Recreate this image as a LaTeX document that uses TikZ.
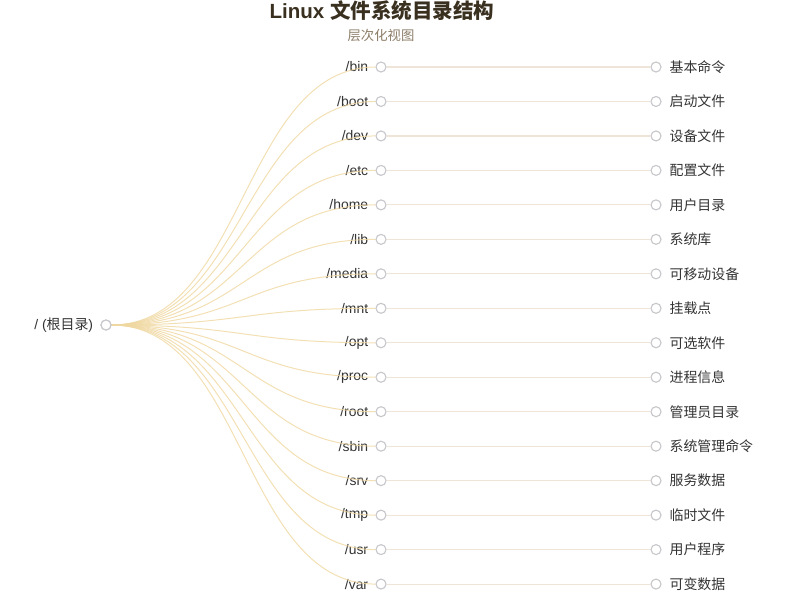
\documentclass[tikz,border=0pt]{standalone}
\usepackage{fontspec}
\setmainfont{Liberation Sans}
\newfontfamily\cjk{Noto Sans CJK SC}
\usetikzlibrary{positioning}

\definecolor{linkgold}{HTML}{EFD7A0}
\definecolor{linkpale}{HTML}{EFE4D8}
\definecolor{dotgray}{HTML}{C8C8CC}
\definecolor{titlebrown}{HTML}{3A3020}
\definecolor{subbrown}{HTML}{8C7D68}
\definecolor{labelgray}{HTML}{333333}

\tikzset{
  dot/.style={circle, draw=dotgray, fill=white, line width=0.8pt, minimum size=0.25cm, inner sep=0pt},
  dirlabel/.style={text=labelgray, font=\fontsize{9.9}{11}\selectfont, inner sep=0pt},
  curvelink/.style={draw=linkgold, line width=0.7pt, opacity=0.8},
  flatlink/.style={draw=linkpale, line width=0.8pt}
}

\begin{document}
\begin{tikzpicture}[x=0.025cm, y=-0.025cm]
\useasboundingbox (0,0) rectangle (800,600);

% Title
\node (title) [text=titlebrown, font=\fontsize{14.6}{17}\bfseries] at (382,10.5) {Linux {\cjk 文件系统目录结构}};
\node (subtitle) [text=subbrown, font=\fontsize{9.5}{11}\cjk] at (381,35) {层次化视图};

% Root
\node (root) [dot] at (106,325) {};
\node (rootlabel) [dirlabel, left=5pt of root] {/ ({\cjk 根目录})};

% Directories
\foreach \d/\t [count=\i] in {bin/基本命令, boot/启动文件, dev/设备文件, etc/配置文件,
  home/用户目录, lib/系统库, media/可移动设备, mnt/挂载点, opt/可选软件,
  proc/进程信息, root/管理员目录, sbin/系统管理命令, srv/服务数据, tmp/临时文件,
  usr/用户程序, var/可变数据}
{
  \node (d\i) [dot] at (381,{67+(\i-1)*34.47}) {};
  \node (dl\i) [dirlabel, left=5pt of d\i] {/\d};
  \node (t\i) [dot] at (656,{67+(\i-1)*34.47}) {};
  \node (tl\i) [dirlabel, right=5.5pt of t\i] {\cjk \t};
  \draw [curvelink] (root.east) .. controls +(133,0) and +(-133,0) .. (d\i.west);
  \draw [flatlink] (d\i.east) -- (t\i.west);
}

% Redraw circles on top
\node [dot] at (root) {};
\end{tikzpicture}
\end{document}
